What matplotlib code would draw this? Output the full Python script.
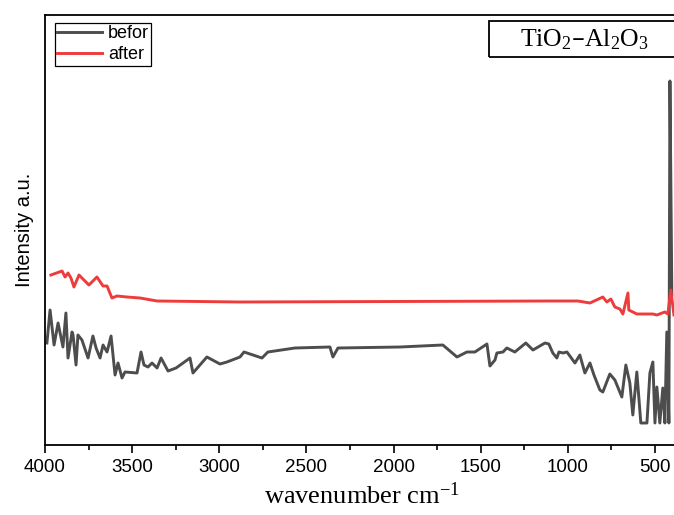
import matplotlib
matplotlib.use("Agg")
import matplotlib.pyplot as plt
from matplotlib.patches import Rectangle
from matplotlib.ticker import MultipleLocator

# FTIR spectra (wavenumber cm-1, intensity a.u.)
before_wn = [3989, 3971, 3948, 3925, 3897, 3880, 3868, 3845, 3839, 3822, 3811, 3788,
             3753, 3725, 3707, 3684, 3667, 3644, 3621, 3598, 3581, 3558, 3541, 3472,
             3449, 3432, 3409, 3386, 3357, 3334, 3294, 3248, 3168, 3151, 3071, 2996,
             2956, 2881, 2858, 2755, 2721, 2566, 2365, 2348, 2319, 1963, 1717, 1636,
             1579, 1533, 1464, 1447, 1418, 1407, 1372, 1350, 1304, 1241, 1200, 1131,
             1109, 1086, 1063, 1051, 1028, 1005, 959, 931, 902, 873, 850, 816, 799,
             759, 730, 690, 667, 644, 627, 604, 581, 546, 529, 512, 500, 489, 472,
             455, 443, 432, 420, 414, 403]
before_int = [102, 135, 100, 122, 98, 132, 87, 113, 110, 80, 110, 105,
              87, 109, 97, 87, 100, 93, 109, 70, 82, 67, 73, 72,
              93, 80, 78, 82, 77, 87, 74, 77, 87, 72, 88, 81,
              83, 88, 93, 87, 93, 97, 98, 88, 97, 98, 100, 88,
              93, 93, 101, 79, 85, 92, 93, 97, 93, 102, 95, 102,
              101, 92, 87, 93, 92, 93, 82, 90, 72, 82, 70, 55, 53,
              71, 65, 48, 80, 62, 30, 73, 22, 22, 72, 83, 22, 58, 22,
              57, 22, 113, 22, 364, 150]

after_wn = [3966, 3902, 3885, 3868, 3851, 3834, 3805, 3748, 3702, 3667, 3644, 3616,
            3587, 3530, 3455, 3357, 2881, 1103, 942, 873, 799, 776, 753, 730, 701,
            684, 655, 650, 604, 512, 489, 443, 426, 409, 391]
after_int = [170, 174, 168, 172, 167, 158, 170, 160, 168, 159, 159, 147,
             149, 148, 147, 144, 143, 144, 144, 142, 148, 143, 146, 138, 136,
             131, 152, 135, 131, 131, 130, 133, 131, 155, 130]

plt.rcParams['font.family'] = ['Liberation Sans', 'DejaVu Sans']
plt.rcParams['mathtext.default'] = 'regular'

fig = plt.figure(figsize=(6.74, 5.15), dpi=100)
# right spine falls just outside the picture, as in the original
ax = fig.add_axes([45 / 674, 1 - 445 / 515, 634 / 674, 430 / 515])

ax.plot(before_wn, before_int, color='#4d4d4d', lw=2.1, label='befor')
ax.plot(after_wn, after_int, color='#ee3b3b', lw=2.1, label='after')

ax.set_xlim(4000, 362)
ax.set_ylim(0, 430)
ax.xaxis.set_major_locator(MultipleLocator(500))
ax.xaxis.set_minor_locator(MultipleLocator(250))
ax.tick_params(axis='x', which='major', direction='out', length=6, width=1.2,
               labelsize=13.5, pad=4)
ax.tick_params(axis='x', which='minor', direction='out', length=3.5, width=1.2)
ax.set_yticks([])
for s in ax.spines.values():
    s.set_linewidth(1.3)

ax.set_xlabel('wavenumber cm$^{-1}$', family='Liberation Serif', fontsize=19, labelpad=5)
ax.set_ylabel('Intensity a.u.', fontsize=14.5, labelpad=8)

leg = ax.legend(loc='upper left', bbox_to_anchor=(0.015, 0.982), fontsize=13,
                frameon=True, fancybox=False, edgecolor='black', framealpha=1,
                borderpad=0.15, handlelength=2.5, handletextpad=0.3, labelspacing=0.2,
                borderaxespad=0)
leg.get_frame().set_linewidth(0.9)

# title box on the upper right
fig.patches.append(Rectangle((489 / 674, 1 - 57 / 515), 200 / 674, 36 / 515,
                             transform=fig.transFigure, fill=False,
                             edgecolor='black', lw=1.3))
fig.text(584 / 674, 1 - 40 / 515, 'TiO$_2$–Al$_2$O$_3$', family='Liberation Serif',
         fontsize=18.5, ha='center', va='center')

fig.savefig('out.png', dpi=100)
